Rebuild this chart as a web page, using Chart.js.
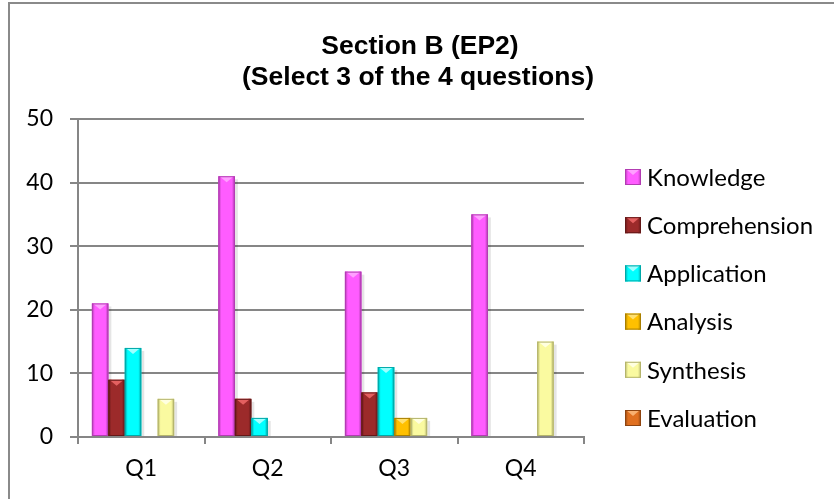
<!DOCTYPE html>
<html>
<head>
<meta charset="utf-8">
<script src="https://cdn.jsdelivr.net/npm/chart.js@4/dist/chart.umd.min.js"></script>
<style>
  html, body { margin: 0; padding: 0; background: #fff; }
  #sectionB { display: block; }
</style>
</head>
<body>
<canvas id="sectionB" width="834" height="499"></canvas>
<script>
// Section B question counts per cognitive level
const categories    = ['Q1', 'Q2', 'Q3', 'Q4'];
const knowledge     = [21, 41, 26, 35];
const comprehension = [9, 6, 7, 0];
const application   = [14, 3, 11, 0];
const analysis      = [0, 0, 3, 0];
const synthesis     = [6, 0, 3, 15];
const evaluation    = [0, 0, 0, 0];

const seriesNames = ['Knowledge', 'Comprehension', 'Application', 'Analysis', 'Synthesis', 'Evaluation'];
const seriesData  = [knowledge, comprehension, application, analysis, synthesis, evaluation];

// main / light (bevel top) / dark (edges)
const palette = [
  { main: '#ff5cff', light: '#ffa0ff', dark: '#b23cb2' },
  { main: '#9c2a2a', light: '#e46060', dark: '#641818' },
  { main: '#00ffff', light: '#a0ffff', dark: '#00a8a8' },
  { main: '#ffc000', light: '#ffe070', dark: '#a87e00' },
  { main: '#fafaa0', light: '#ffffe0', dark: '#b4b46c' },
  { main: '#e07020', light: '#f8b070', dark: '#8e4410' }
];

const GRID = '#868686';
const TEXT_FONT = 'Lato, "Open Sans", sans-serif';

function bevelBox(ctx, x, top, w, h, c) {
  ctx.save();
  ctx.fillStyle = c.main;
  ctx.fillRect(x, top, w, h);
  const edge = Math.min(3, w / 5);
  let g = ctx.createLinearGradient(x, 0, x + edge, 0);
  g.addColorStop(0, c.dark);
  g.addColorStop(1, c.main);
  ctx.fillStyle = g;
  ctx.fillRect(x, top, edge, h);
  g = ctx.createLinearGradient(x + w - edge, 0, x + w, 0);
  g.addColorStop(0, c.main);
  g.addColorStop(1, c.dark);
  ctx.fillStyle = g;
  ctx.fillRect(x + w - edge, top, edge, h);
  // top bevel
  const th = Math.min(6, h);
  ctx.fillStyle = c.light;
  ctx.beginPath();
  ctx.moveTo(x + 1, top);
  ctx.lineTo(x + w - 1, top);
  ctx.lineTo(x + w / 2, top + th);
  ctx.closePath();
  ctx.fill();
  ctx.strokeStyle = c.dark;
  ctx.lineWidth = 1;
  ctx.strokeRect(x + 0.5, top + 0.5, w - 1, h - 1);
  ctx.restore();
}

const bevelBars = {
  id: 'bevelBars',
  afterDatasetsDraw(chart) {
    const ctx = chart.ctx;
    chart.data.datasets.forEach((ds, i) => {
      const meta = chart.getDatasetMeta(i);
      meta.data.forEach((bar, j) => {
        if (!ds.data[j]) return;
        const p = bar.getProps(['x', 'y', 'base', 'width'], true);
        const left = p.x - p.width / 2;
        const top = Math.min(p.y, p.base);
        const h = Math.abs(p.base - p.y);
        // soft shadow on the right
        ctx.save();
        ctx.fillStyle = 'rgba(0,0,0,0.1)';
        ctx.fillRect(left + p.width, top + 3, 3, h - 3);
        ctx.restore();
        bevelBox(ctx, left, top, p.width, h, palette[i]);
      });
    });
  }
};

const frameTitleLegend = {
  id: 'frameTitleLegend',
  beforeDraw(chart) {
    const ctx = chart.ctx;
    ctx.save();
    ctx.fillStyle = '#fff';
    ctx.fillRect(0, 0, chart.width, chart.height);
    ctx.strokeStyle = '#8a8a8a';
    ctx.lineWidth = 2;
    ctx.strokeRect(9, 3, chart.width + 20, chart.height + 20);
    ctx.restore();
  },
  afterDraw(chart) {
    const ctx = chart.ctx;
    ctx.save();
    ctx.fillStyle = '#000';
    ctx.textAlign = 'center';
    ctx.textBaseline = 'middle';
    ctx.font = 'bold 26.5px "Liberation Sans", Arial, sans-serif';
    ctx.fillText('Section B (EP2)', 420, 47);
    ctx.fillText('(Select 3 of the 4 questions)', 418, 78);

    ctx.textAlign = 'left';
    ctx.font = '24px ' + TEXT_FONT;
    chart.data.datasets.forEach((ds, i) => {
      const cy = 177 + i * 48.2;
      bevelBox(ctx, 625, cy - 8, 16, 16, palette[i]);
      ctx.fillStyle = '#000';
      ctx.fillText(ds.label, 647, cy + 1);
    });
    ctx.restore();
  }
};

new Chart(document.getElementById('sectionB').getContext('2d'), {
  type: 'bar',
  data: {
    labels: categories,
    datasets: seriesNames.map((name, i) => ({
      label: name,
      data: seriesData[i],
      backgroundColor: 'rgba(0,0,0,0)',
      borderWidth: 0,
      categoryPercentage: 0.78,
      barPercentage: 1.0
    }))
  },
  options: {
    responsive: false,
    animation: false,
    layout: { padding: { top: 119, right: 250, bottom: 0, left: 0 } },
    plugins: {
      legend: { display: false },
      title: { display: false },
      tooltip: { enabled: false }
    },
    scales: {
      x: {
        afterFit: scale => { scale.height = 62; },
        grid: { drawOnChartArea: false, tickLength: 7, color: GRID, lineWidth: 2 },
        border: { color: GRID, width: 2 },
        ticks: { color: '#000', padding: 11, font: { family: TEXT_FONT, size: 23 } }
      },
      y: {
        min: 0,
        max: 50,
        afterFit: scale => { scale.width = 78; },
        grid: { color: GRID, lineWidth: 2, tickLength: 8 },
        border: { color: GRID, width: 2 },
        ticks: { stepSize: 10, color: '#000', padding: 17, font: { family: TEXT_FONT, size: 23 } }
      }
    }
  },
  plugins: [frameTitleLegend, bevelBars]
});
</script>
</body>
</html>
